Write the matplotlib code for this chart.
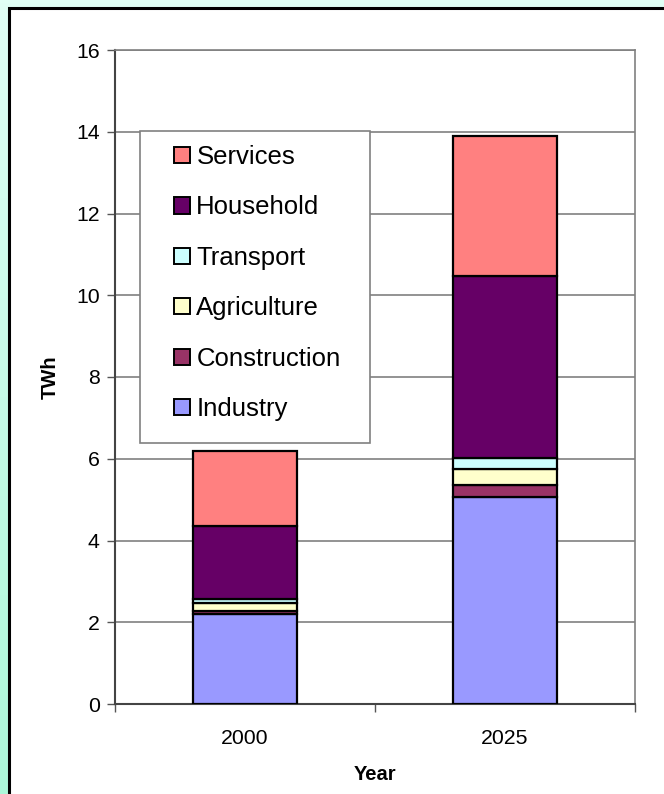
import numpy as np
import matplotlib
matplotlib.use("Agg")
import matplotlib.pyplot as plt
from matplotlib.patches import Rectangle, Patch

plt.rcParams['font.family'] = ['Liberation Sans', 'DejaVu Sans']

# Electricity demand by sector (TWh)
years = ['2000', '2025']
sectors = ['Industry', 'Construction', 'Agriculture', 'Transport', 'Household', 'Services']
industry = [2.19, 5.07]
construction = [0.09, 0.30]
agriculture = [0.20, 0.39]
transport = [0.10, 0.26]
household = [1.77, 4.46]
services = [1.85, 3.42]
colors = ['#9999FF', '#993366', '#FFFFCC', '#CCFFFF', '#660066', '#FF8080']

W, H = 664, 794
fig = plt.figure(figsize=(W / 100, H / 100), dpi=100)

# mint gradient backdrop
bg = fig.add_axes([0, 0, 1, 1], zorder=-10)
top_c = np.array([224, 255, 245]) / 255
bot_c = np.array([172, 247, 217]) / 255
t = np.linspace(0, 1, 256)[:, None]
grad = (top_c[None, :] * (1 - t) + bot_c[None, :] * t)[:, None, :]
bg.imshow(np.repeat(grad, 2, axis=1), aspect='auto', extent=[0, 1, 0, 1])
bg.set_axis_off()

# white chart panel with black frame
fig.patches.append(Rectangle((9 / W, -0.05), 1.2, (H - 8) / H + 0.05,
                             transform=fig.transFigure, facecolor='white',
                             edgecolor='black', linewidth=2.2, zorder=-5))

ax = fig.add_axes([115 / W, 1 - 704 / H, 520 / W, 654 / H])
ax.set_facecolor('white')

series = [industry, construction, agriculture, transport, household, services]
x = np.arange(len(years))
bottom = np.zeros(len(years))
for name, vals, col in zip(sectors, series, colors):
    ax.bar(x, vals, 0.4, bottom=bottom, color=col, edgecolor='black',
           linewidth=1.6, zorder=3, label=name)
    bottom += np.array(vals)

ax.set_xlim(-0.5, 1.5)
ax.set_ylim(0, 16)
ax.set_yticks(np.arange(0, 17, 2))
ax.set_yticklabels([str(v) for v in range(0, 17, 2)], fontsize=15.3)
ax.set_xticks(x)
ax.set_xticklabels(years, fontsize=15.3)
ax.set_xticks([-0.5, 0.5, 1.5], minor=True)
ax.tick_params(axis='x', which='major', length=0, pad=18)
ax.tick_params(axis='x', which='minor', length=6, width=1, color='#555555', direction='out')
ax.tick_params(axis='y', length=6, width=1, color='#555555', direction='out', pad=5)
ax.yaxis.grid(True, color='#808080', linewidth=1.2, zorder=0)
ax.set_axisbelow(True)
for side in ['top', 'right']:
    ax.spines[side].set_color('#808080')
    ax.spines[side].set_linewidth(1.2)
for side in ['left', 'bottom']:
    ax.spines[side].set_color('#444444')
    ax.spines[side].set_linewidth(1.5)

ax.set_ylabel('TWh', fontsize=14.5, fontweight='bold', labelpad=12)
ax.set_xlabel('Year', fontsize=14.5, fontweight='bold', labelpad=12)

# legend: boxed, newest sector on top
handles = [Patch(facecolor=c, edgecolor='black', linewidth=1.4) for c in colors][::-1]
labels = sectors[::-1]
ax.add_patch(Rectangle(((140 - 115) / 520, (704 - 443) / 654), 230 / 520, 312 / 654,
                       transform=ax.transAxes, facecolor='white', edgecolor='#808080',
                       linewidth=1.2, zorder=5))
leg = ax.legend(handles, labels, loc='upper left',
                bbox_to_anchor=((174 - 115) / 520, (704 - 145) / 654),
                frameon=False, fontsize=18.5, handlelength=0.62, handleheight=0.6,
                handletextpad=0.25, labelspacing=1.03, borderpad=0, borderaxespad=0)
leg.set_zorder(6)

fig.savefig('out.png', dpi=100)
